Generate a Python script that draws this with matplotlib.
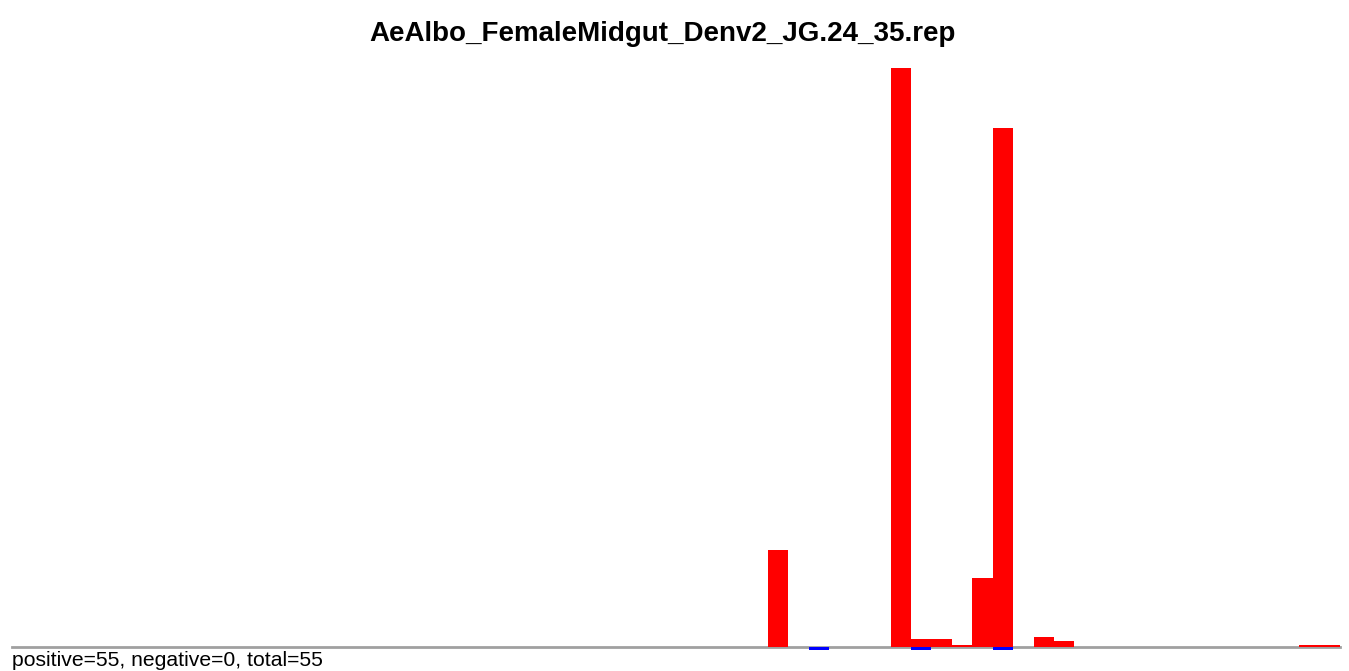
import numpy as np
import matplotlib.pyplot as plt

plt.rcParams['font.family'] = ['Liberation Sans', 'DejaVu Sans']

# ---------- data ----------
title = "AeAlbo_FemaleMidgut_Denv2_JG.24_35.rep"
summary = "positive=55, negative=0, total=55"
n_bins = 65
pos_idx = [37, 43, 44, 45, 46, 47, 48, 50, 51, 63, 64]
pos_val = [97, 579, 8, 8, 2, 69, 519, 10, 6, 2, 2]
neg_idx = [39, 44, 48]
neg_val = [-3, -3, -3]
# --------------------------

W, H = 1349, 671
fig = plt.figure(figsize=(W / 100, H / 100), dpi=100)
left, right = 12, 1340
top, base = 68, 647
ax = fig.add_axes([left / W, 1 - base / H, (right - left) / W, (base - top) / H])
ax.set_xlim(0, n_bins)
ax.set_ylim(0, max(pos_val))
ax.axis('off')

ax.axhline(0, color='#a0a0a0', lw=2, zorder=1, clip_on=False)
ax.bar(pos_idx, pos_val, width=1.0, align='edge', color='#ff0000',
       linewidth=0, zorder=2, clip_on=False)
ax.bar(neg_idx, neg_val, width=1.0, align='edge', color='#0000ff',
       linewidth=0, zorder=3, clip_on=False)

fig.text(663 / W, 1 - 41 / H, title, ha='center', va='baseline',
         fontsize=20, fontweight='bold')
fig.text(left / W, 1 - 666 / H, summary, ha='left', va='baseline',
         fontsize=15.2)

fig.savefig('out.png', dpi=100)
